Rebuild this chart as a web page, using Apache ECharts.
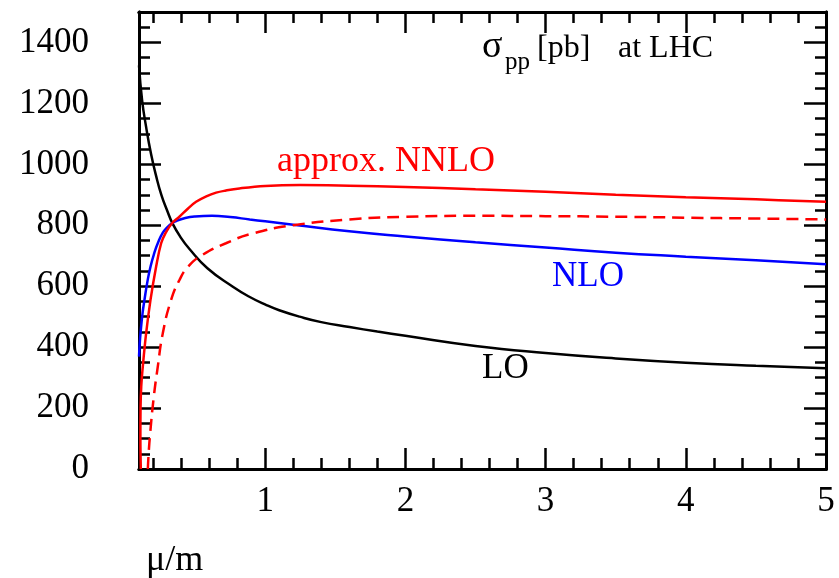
<!DOCTYPE html>
<html>
<head>
<meta charset="utf-8">
<script src="https://cdn.jsdelivr.net/npm/echarts@6/dist/echarts.min.js"></script>
<style>
html,body{margin:0;padding:0;background:#fff;}
#chart{width:839px;height:578px;}
</style>
</head>
<body>
<div id="chart"></div>
<script>
// ---- data ----
const muLO    = [0.1, 0.122, 0.151, 0.186, 0.222, 0.26, 0.302, 0.338, 0.396, 0.46, 0.588, 0.767, 0.88, 1.009, 1.1, 1.245, 1.4, 1.602, 1.8, 2.0, 2.5, 3.0, 3.5, 4.0, 4.5, 5.0];
const sigmaLO = [1325, 1211, 1122, 1034, 962, 899, 847, 807, 761, 722, 659, 599, 567, 538, 521, 500, 482, 466, 451, 437, 404, 381, 363, 349, 339, 331];

const muNLO    = [0.1, 0.105, 0.111, 0.125, 0.139, 0.16, 0.182, 0.21, 0.234, 0.27, 0.305, 0.33, 0.36, 0.43, 0.5, 0.62, 0.75, 0.89, 1.0, 1.2, 1.6, 2.0, 2.5, 3.0, 3.5, 4.0, 4.5, 5.0];
const sigmaNLO = [369, 410, 446, 510, 555, 615, 664, 710, 741, 776, 795, 805, 813, 824, 829, 831, 827, 819, 813, 802, 780, 763, 744, 727, 710, 697, 685, 672];

const muNNLO    = [0.113, 0.110, 0.111, 0.116, 0.127, 0.151, 0.182, 0.222, 0.258, 0.29, 0.334, 0.388, 0.45, 0.507, 0.58, 0.65, 0.72, 0.816, 1.0, 1.25, 1.6, 2.0, 2.5, 3.0, 3.5, 4.0, 4.5, 5.0];
const sigmaNNLO = [0, 100, 200, 270, 336, 446, 555, 664, 741, 775, 806, 828, 855, 877, 895, 907, 914, 921, 929, 932, 930, 926, 918, 910, 900, 892, 885, 877];

const muNNLOdash    = [0.163, 0.17, 0.18, 0.203, 0.234, 0.27, 0.329, 0.388, 0.45, 0.55, 0.72, 0.91, 1.2, 1.6, 2.0, 2.5, 3.0, 3.5, 4.0, 4.5, 5.0];
const sigmaNNLOdash = [0, 60, 118, 227, 336, 446, 555, 620, 664, 702, 741, 773, 800, 819, 828, 831, 830, 828, 825, 822, 819];

const xMajorTicks = [1, 2, 3, 4, 5];
const xMinorTicks = [0.2, 0.4, 0.6, 0.8, 1.2, 1.4, 1.6, 1.8, 2.2, 2.4, 2.6, 2.8, 3.2, 3.4, 3.6, 3.8, 4.2, 4.4, 4.6, 4.8];
const yMajorTicks = [0, 200, 400, 600, 800, 1000, 1200, 1400];
const yMinorTicks = [50, 100, 150, 250, 300, 350, 450, 500, 550, 650, 700, 750, 850, 900, 950, 1050, 1100, 1150, 1250, 1300, 1350, 1450];

const X_MIN = 0.1, X_MAX = 5, Y_MIN = 0, Y_MAX = 1500;

// ---- chart ----
const zip = (a, b) => a.map((v, i) => [v, b[i]]);
const FONT = "'Liberation Serif', 'Times New Roman', serif";

function xAxis(pos, ticks, len, labels) {
  return {
    type: 'value', position: pos, min: X_MIN, max: X_MAX,
    axisLine: { show: true, onZero: false, lineStyle: { color: '#000', width: 3 } },
    axisTick: { show: true, inside: true, length: len, customValues: ticks, lineStyle: { color: '#000', width: 2.5 } },
    axisLabel: labels ? { show: true, customValues: ticks, margin: 15, color: '#000', fontSize: 35, fontFamily: FONT,
      formatter: v => String(v) } : { show: false },
    splitLine: { show: false }, minorTick: { show: false }
  };
}
function yAxis(pos, ticks, len, labels) {
  return {
    type: 'value', position: pos, min: Y_MIN, max: Y_MAX,
    axisLine: { show: true, onZero: false, lineStyle: { color: '#000', width: 3 } },
    axisTick: { show: true, inside: true, length: len, customValues: ticks, lineStyle: { color: '#000', width: 2.5 } },
    axisLabel: labels ? { show: true, customValues: ticks, margin: 50, color: '#000', fontSize: 35, fontFamily: FONT,
      formatter: v => String(v) } : { show: false },
    splitLine: { show: false }, minorTick: { show: false }
  };
}

const chart = echarts.init(document.getElementById('chart'), null, { renderer: 'canvas' });

function txt(text, x, y, size, color) {
  return { type: 'text', x: x, y: y, silent: true, z: 100,
    style: { text: text, fill: color, font: size + 'px ' + FONT, textAlign: 'left', textVerticalAlign: 'middle' } };
}

chart.setOption({
  animation: false,
  backgroundColor: '#fff',
  grid: { left: 139, right: 13, top: 12, bottom: 109, containLabel: false, outerBoundsMode: 'none' },
  xAxis: [
    xAxis('bottom', xMajorTicks, 21, true),
    xAxis('bottom', xMinorTicks, 11, false),
    xAxis('top', xMajorTicks, 21, false),
    xAxis('top', xMinorTicks, 11, false)
  ],
  yAxis: [
    yAxis('left', yMajorTicks, 22, true),
    yAxis('left', yMinorTicks, 11, false),
    yAxis('right', yMajorTicks, 22, false),
    yAxis('right', yMinorTicks, 11, false)
  ],
  series: [
    { name: 'LO', type: 'line', data: zip(muLO, sigmaLO), symbol: 'none', smooth: 0.5, clip: true,
      lineStyle: { color: '#000000', width: 2.5 } },
    { name: 'NLO', type: 'line', data: zip(muNLO, sigmaNLO), symbol: 'none', smooth: 0.5, clip: true,
      lineStyle: { color: '#0000ff', width: 2.5 } },
    { name: 'approx. NNLO', type: 'line', data: zip(muNNLO, sigmaNNLO), symbol: 'none', smooth: 0.4, clip: true,
      lineStyle: { color: '#ff0000', width: 2.5 } },
    { name: 'approx. NNLO (dashed)', type: 'line', data: zip(muNNLOdash, sigmaNNLOdash), symbol: 'none', smooth: 0.5, clip: true,
      lineStyle: { color: '#ff0000', width: 2.5, type: [12, 7] } }
  ],
  graphic: [
    txt('σ', 482, 47, 38, '#000'),
    txt('pp', 505, 62, 25, '#000'),
    txt('[pb]', 537, 49, 32, '#000'),
    txt('at LHC', 618, 49, 32, '#000'),
    txt('approx. NNLO', 277, 161.5, 36, '#ff0000'),
    txt('NLO', 552, 277, 35, '#0000ff'),
    txt('LO', 482, 368.5, 35, '#000'),
    txt('μ/m', 146, 560.5, 36, '#000')
  ]
});
</script>
</body>
</html>
